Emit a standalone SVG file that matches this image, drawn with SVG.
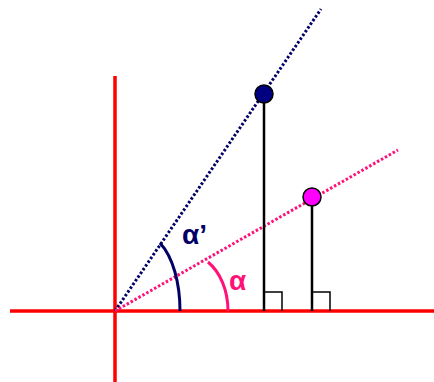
<svg xmlns="http://www.w3.org/2000/svg" width="434" height="382" viewBox="0 0 434 382">
<style>
.axis{stroke:#ff0000;stroke-width:3.5;fill:none}
.dot{stroke-width:3;stroke-dasharray:2.5 2;fill:none}
.drop{stroke:#000;stroke-width:2.5;fill:none}
.sq{stroke:#000;stroke-width:1.5;fill:none}
.lbl{font-family:"Liberation Sans",Arial,sans-serif;font-weight:bold;font-size:28px}
</style>
<rect width="434" height="382" fill="#fff"/>
<g id="connectors">
<line class="axis" x1="10" y1="311" x2="434" y2="311"/>
<line class="axis" x1="115" y1="76" x2="115" y2="382"/>
<line class="dot" stroke="#000066" x1="115" y1="311" x2="321" y2="9"/>
<line class="dot" stroke="#ff1177" x1="115" y1="311" x2="398" y2="150"/>
<line class="drop" x1="264" y1="95" x2="264" y2="311"/>
<line class="drop" x1="312" y1="197" x2="312" y2="311"/>
<polyline class="sq" points="264,292 282,292 282,311"/>
<polyline class="sq" points="312,292 330,292 330,311"/>
<path d="M160,243 C173,257 180,283 180,311" stroke="#000066" stroke-width="3" fill="none"/>
<path d="M208,262 C220,272 228,290 228,311" stroke="#ff1177" stroke-width="3" fill="none"/>
</g>
<g id="pointA">
<circle cx="264" cy="94" r="9" fill="#000080" stroke="#000" stroke-width="1.5"/>
</g>
<g id="pointB">
<circle cx="312" cy="197" r="9" fill="#ff00ff" stroke="#000" stroke-width="1.5"/>
</g>
<g id="labelAlphaPrime">
<text class="lbl" x="182" y="244" fill="#000066">α’</text>
</g>
<g id="labelAlpha">
<text class="lbl" x="229" y="290" fill="#ff1177">α</text>
</g>
</svg>
